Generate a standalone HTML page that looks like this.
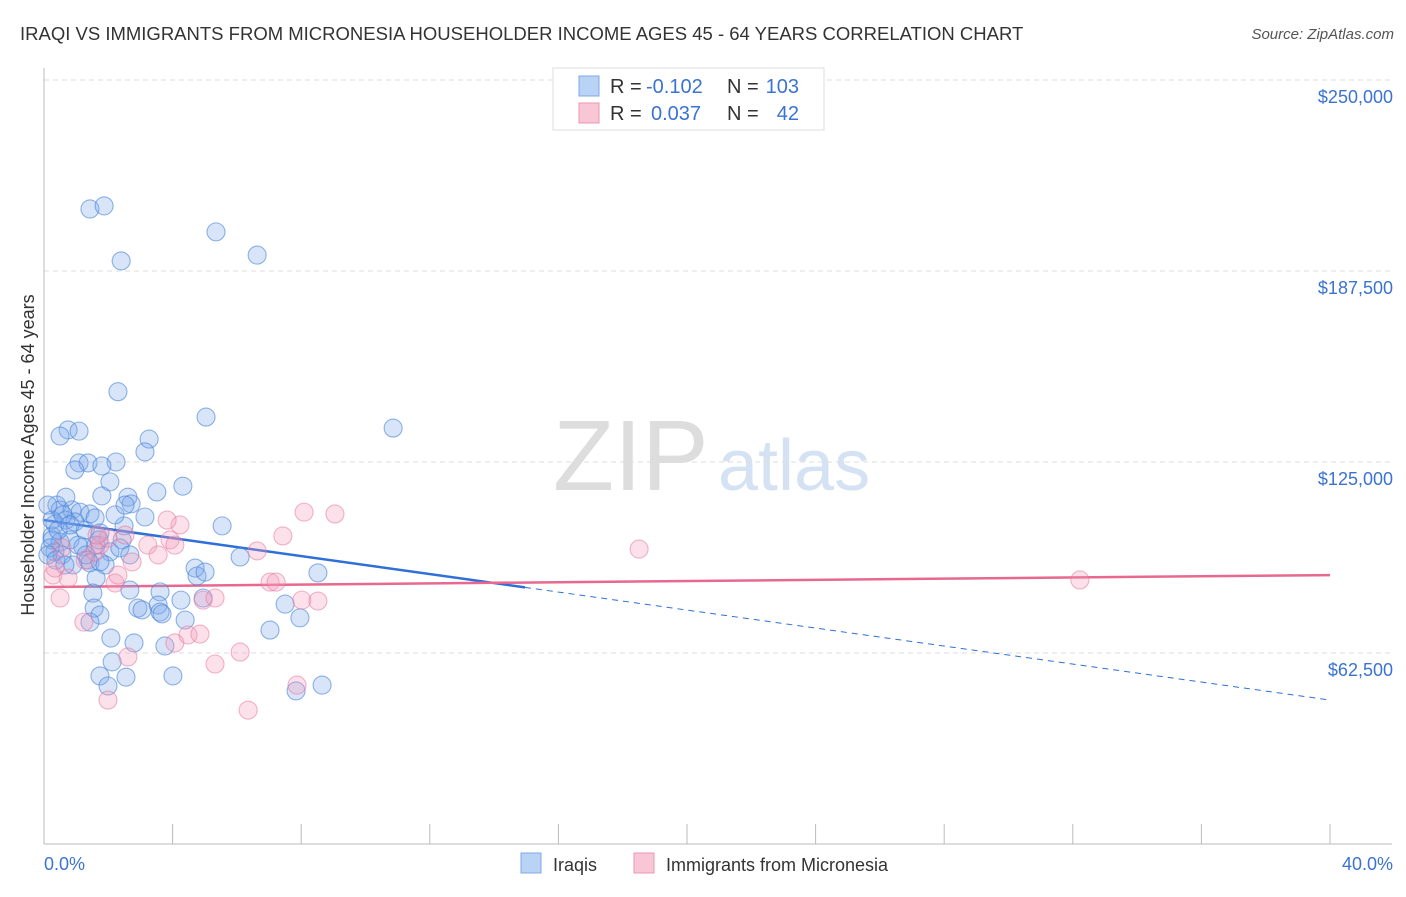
<!DOCTYPE html>
<html><head><meta charset="utf-8"><style>
body{margin:0;background:#fff;font-family:"Liberation Sans",sans-serif;}
svg text{font-family:"Liberation Sans",sans-serif;}
</style></head><body>
<svg id="chart" width="1406" height="892" viewBox="0 0 1406 892" xmlns="http://www.w3.org/2000/svg">
<text x="20" y="40" font-size="18.5" fill="#333">IRAQI VS IMMIGRANTS FROM MICRONESIA HOUSEHOLDER INCOME AGES 45 - 64 YEARS CORRELATION CHART</text>
<text x="1394" y="39" font-size="15" fill="#555" font-style="italic" text-anchor="end">Source: ZipAtlas.com</text>
<g>
<text x="553" y="490" font-size="100" fill="#ddd" font-family="Liberation Serif, serif">ZIP</text>
<text x="718" y="490" font-size="72" fill="#d4e2f4">atlas</text>
</g>
<g id="grid"></g>
<g id="axes"></g>
<g id="trend"></g>
<g id="points"></g>
<text transform="translate(34,455) rotate(-90)" font-size="18" fill="#333" text-anchor="middle">Householder Income Ages 45 - 64 years</text>
<text x="44" y="870" font-size="18" fill="#3b73d0">0.0%</text>
<text x="1393" y="870" font-size="18" fill="#3b73d0" text-anchor="end">40.0%</text>
<g>
<rect x="553" y="68" width="271" height="62" fill="#fff" stroke="#ddd"/>
<rect x="579" y="76" width="20" height="20" fill="#b9d3f6" stroke="#7fa8e3"/>
<rect x="579" y="103" width="20" height="20" fill="#f9c6d5" stroke="#e898b3"/>
<text x="610" y="93" font-size="20" fill="#333">R =</text>
<text x="646" y="93" font-size="20" fill="#3b73d0">-0.102</text>
<text x="727" y="93" font-size="20" fill="#333">N =</text>
<text x="799" y="93" font-size="20" fill="#3b73d0" text-anchor="end">103</text>
<text x="610" y="120" font-size="20" fill="#333">R =</text>
<text x="651" y="120" font-size="20" fill="#3b73d0">0.037</text>
<text x="727" y="120" font-size="20" fill="#333">N =</text>
<text x="799" y="120" font-size="20" fill="#3b73d0" text-anchor="end">42</text>
</g>
<g>
<rect x="521" y="853" width="20" height="20" fill="#b9d3f6" stroke="#7fa8e3"/>
<text x="553" y="871" font-size="18" fill="#333">Iraqis</text>
<rect x="634" y="853" width="20" height="20" fill="#f9c6d5" stroke="#e898b3"/>
<text x="666" y="871" font-size="18" fill="#333">Immigrants from Micronesia</text>
</g>
</svg>
<script>
const blueX=[1.43,1.87,2.40,5.35,6.63,2.30,5.04,10.86,0.75,0.50,1.09,3.27,3.14,1.09,1.37,2.24,1.80,4.32,3.51,1.80,2.61,2.71,2.05,0.40,0.50,0.87,1.12,1.43,0.68,0.34,0.96,1.59,2.49,5.54,3.14,2.21,1.28,1.74,0.25,0.50,0.81,1.21,1.62,2.43,0.34,0.56,1.37,2.05,2.36,6.10,0.90,1.43,1.90,4.70,8.52,4.76,1.62,2.67,3.61,1.52,3.55,4.26,4.95,7.50,2.92,1.56,1.74,3.61,3.67,7.96,1.43,4.39,7.03,2.08,2.80,3.76,2.12,1.74,2.55,4.01,1.99,7.84,8.65,0.25,0.19,0.12,0.37,0.68,0.96,0.25,0.44,0.59,0.81,0.12,1.06,1.31,0.65,1.71,2.52,5.01,1.74,2.67,3.05];
const blueY=[207.8,208.8,190.8,200.3,192.7,148.0,139.7,136.1,135.5,133.5,135.1,132.5,128.3,124.7,124.7,125.0,123.7,117.1,115.2,113.9,113.5,111.3,118.5,110.9,109.3,109.3,108.6,108.0,106.0,104.7,105.4,106.7,104.1,104.1,107.0,107.7,102.7,101.8,100.8,98.8,99.5,97.2,97.8,99.5,95.6,94.6,92.9,95.6,96.9,93.9,91.3,92.0,91.3,90.3,88.7,87.7,87.0,83.1,82.5,82.1,78.2,79.8,80.5,78.5,77.2,77.2,74.9,75.9,75.3,74.0,72.6,73.3,70.0,67.4,65.8,64.8,59.6,55.0,54.6,55.0,51.7,50.1,52.0,99.5,96.9,94.6,92.9,113.5,122.4,106.0,102.7,107.7,104.4,110.9,97.8,94.6,91.3,99.5,110.9,89.0,92.3,94.6,76.6];
const pinkX=[0.28,0.34,0.56,0.75,1.28,1.59,1.74,1.99,2.21,2.52,2.74,3.23,3.55,3.92,4.07,4.23,3.83,4.95,5.32,4.07,4.48,4.85,5.32,6.10,6.35,6.63,7.03,7.22,7.43,8.02,8.52,8.09,9.05,7.87,18.51,32.22,1.99,2.61,1.24,2.30,1.65,0.50];
const pinkY=[88.0,90.3,96.9,87.0,92.9,95.6,97.8,100.1,85.4,101.1,92.3,97.8,94.6,99.5,97.8,104.4,106.0,79.8,80.5,65.8,68.4,68.7,58.9,62.8,43.8,95.9,85.7,85.7,100.8,79.8,79.5,108.6,108.0,52.0,96.5,86.4,47.1,61.2,72.6,88.0,101.1,80.5];
const yTicks=[62.5,125,187.5,250];
const yTickLabels=["$62,500","$125,000","$187,500","$250,000"];
const xTicks=[0,4,8,12,16,20,24,28,32,36,40];
const blueTrend=[106.0,47.1]; const blueSolidEnd=14.96;
const pinkTrend=[84.1,88.0];

const NS="http://www.w3.org/2000/svg";
const X0=44,X1=1330,Y0=844,Ytop=80;
const sx=v=>X0+v/40*(X1-X0);
const sy=v=>Y0-v/250*(Y0-Ytop);
function mk(tag,attrs,parent){const e=document.createElementNS(NS,tag);for(const k in attrs)e.setAttribute(k,attrs[k]);document.getElementById(parent).appendChild(e);return e;}
yTicks.forEach((t,i)=>{
 const l=mk('line',{x1:X0,x2:1392,y1:sy(t),y2:sy(t),stroke:'#ddd','stroke-dasharray':'5,4'},'grid');
 
 
 const tx=mk('text',{x:1393,y:sy(t)+23,'font-size':18,fill:'#3b73d0','text-anchor':'end'},'grid');
 tx.textContent=yTickLabels[i];
 
 
});
const ya=mk('line',{x1:X0,x2:X0,y1:68,y2:Y0,stroke:'#bbb'},'axes');


const xa=mk('line',{x1:X0,x2:1392,y1:Y0,y2:Y0,stroke:'#bbb'},'axes');


xTicks.forEach(t=>{
 const k=mk('line',{x1:sx(t),x2:sx(t),y1:Y0-20,y2:Y0,stroke:'#bbb'},'axes');
 
 
});
function pts(xs,ys,fill,stroke,name){
 xs.forEach((x,i)=>{
  const c=mk('circle',{cx:sx(x),cy:sy(ys[i]),r:9,fill:fill,stroke:stroke,'stroke-width':1.1},'points');
  
  
 });
}
pts(blueX,blueY,'rgba(125,170,235,0.3)','rgba(70,130,215,0.6)','iraqi-point');
pts(pinkX,pinkY,'rgba(245,155,185,0.3)','rgba(230,120,160,0.55)','micronesia-point');
const bAt=x=>blueTrend[0]+(blueTrend[1]-blueTrend[0])*x/40;
const b1=mk('line',{x1:sx(0),y1:sy(bAt(0)),x2:sx(blueSolidEnd),y2:sy(bAt(blueSolidEnd)),stroke:'#2f6fd8','stroke-width':2.5},'trend');


const b2=mk('line',{x1:sx(blueSolidEnd),y1:sy(bAt(blueSolidEnd)),x2:sx(40),y2:sy(bAt(40)),stroke:'#2f6fd8','stroke-width':1,'stroke-dasharray':'6,5'},'trend');


const p1=mk('line',{x1:sx(0),y1:sy(pinkTrend[0]),x2:sx(40),y2:sy(pinkTrend[1]),stroke:'#e8688f','stroke-width':2.5},'trend');


</script>
</body></html>
